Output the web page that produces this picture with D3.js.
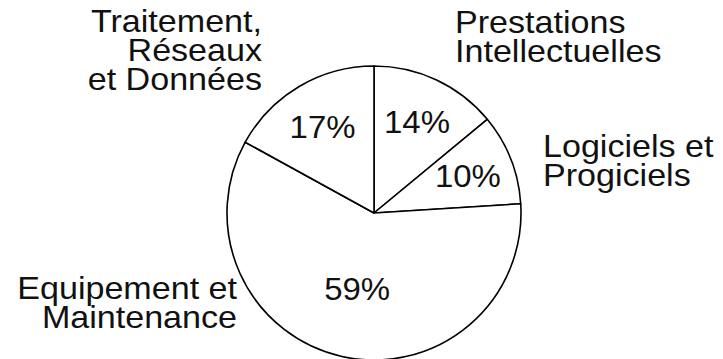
<!DOCTYPE html>
<html>
<head>
<meta charset="utf-8">
<script src="https://cdn.jsdelivr.net/npm/d3@7"></script>
<style>
  html, body { margin: 0; padding: 0; background: #fff; }
  svg { display: block; }
  text { font-family: "Liberation Sans", Arial, Helvetica, sans-serif; fill: #111; }
</style>
</head>
<body>
<svg id="chart" width="723" height="359"></svg>
<script>
// Répartition des dépenses informatiques (%)
const categories = [
  "Prestations Intellectuelles",
  "Logiciels et Progiciels",
  "Equipement et Maintenance",
  "Traitement, Réseaux et Données"
];
const values = [14, 10, 59, 17];
const categoryLines = [
  ["Prestations", "Intellectuelles"],
  ["Logiciels et", "Progiciels"],
  ["Equipement et", "Maintenance"],
  ["Traitement,", "Réseaux", "et Données"]
];

const W = 723, H = 359;
const cx = 374, cy = 213, R = 147;
const fontSize = 32, stretch = 1.065, lineGap = 29;

const svg = d3.select("#chart");
svg.append("rect").attr("width", W).attr("height", H).attr("fill", "#fff");

const data = categories.map((c, i) => ({ name: c, value: values[i], lines: categoryLines[i] }));

const pie = d3.pie().sort(null).value(d => d.value);
const arcs = pie(data);
const arc = d3.arc().innerRadius(0).outerRadius(R);

const g = svg.append("g").attr("transform", `translate(${cx},${cy})`);

g.selectAll("path.slice")
  .data(arcs)
  .join("path")
  .attr("class", "slice")
  .attr("d", arc)
  .attr("fill", "#fff")
  .attr("stroke", "#000")
  .attr("stroke-width", 1.6)
  .attr("stroke-linejoin", "round");

// Percentage labels inside slices; the large slice keeps its label nearer the centre
const labelArc = d => d3.arc().innerRadius(0).outerRadius(2 * (d.data.value > 50 ? 77 : 101));
g.selectAll("text.pct")
  .data(arcs)
  .join("text")
  .attr("class", "pct")
  .attr("transform", d => {
    const [x, y] = labelArc(d).centroid(d);
    return `translate(${x},${y + fontSize * 0.36}) scale(1.03,1)`;
  })
  .attr("text-anchor", "middle")
  .attr("font-size", fontSize)
  .text(d => d3.format(".0f")(d.value) + "%");

// Category labels outside the pie
const outside = [
  { anchor: "start", x: cx + 81,  y: cy - 180 },  // Prestations
  { anchor: "start", x: cx + 169, y: cy - 56 },   // Logiciels
  { anchor: "end",   x: cx - 137, y: cy + 86 },   // Equipement
  { anchor: "end",   x: cx - 112, y: cy - 181 }   // Traitement
];

data.forEach((d, i) => {
  const o = outside[i];
  const t = svg.append("text")
    .attr("text-anchor", o.anchor)
    .attr("font-size", fontSize)
    .attr("transform", `translate(${o.x},${o.y}) scale(${stretch},1)`);
  d.lines.forEach((line, j) => {
    t.append("tspan").attr("x", 0).attr("y", j * lineGap).text(line);
  });
});
</script>
</body>
</html>
